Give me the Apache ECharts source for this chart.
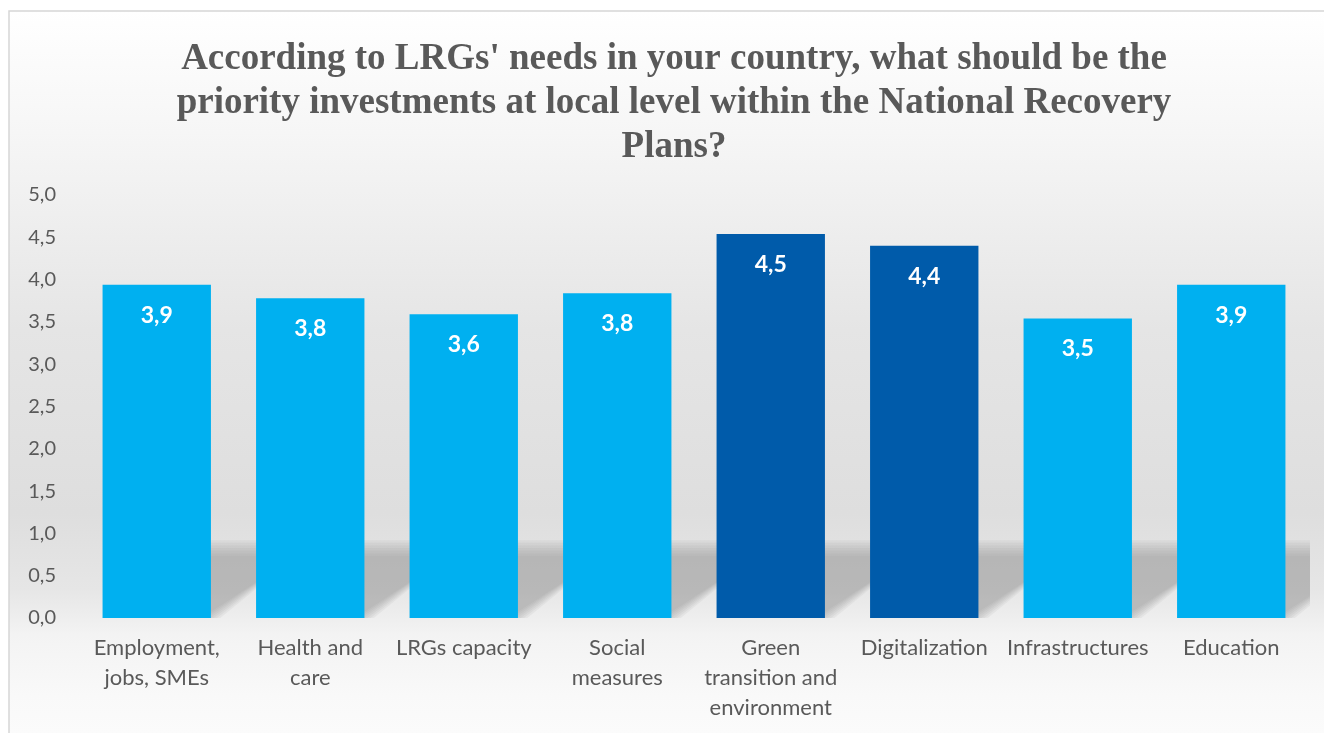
<!DOCTYPE html>
<html>
<head>
<meta charset="utf-8">
<script src="https://cdn.jsdelivr.net/npm/echarts@6/dist/echarts.min.js"></script>
<style>
html,body{margin:0;padding:0;background:#fff;}
#chart{width:1324px;height:733px;}
</style>
</head>
<body>
<div id="chart"></div>
<script>
const titleText = "According to LRGs' needs in your country, what should be the\npriority investments at local level within the National Recovery\nPlans?";
const categories = [
  "Employment,\njobs, SMEs",
  "Health and\ncare",
  "LRGs capacity",
  "Social\nmeasures",
  "Green\ntransition and\nenvironment",
  "Digitalization",
  "Infrastructures",
  "Education"
];
const values = [3.94, 3.78, 3.59, 3.84, 4.54, 4.40, 3.54, 3.94];
const highlighted = ["Green\ntransition and\nenvironment", "Digitalization"];
const yTicks = { min: 0, max: 5, interval: 0.5 };

const LIGHT = '#00B0F0';
const DARK = '#005BAA';
const TEXT = '#595959';
const BAR_W = 0.706;

const chart = echarts.init(document.getElementById('chart'));
const fmt = v => v.toFixed(1).replace('.', ',');

chart.setOption({
  animation: false,
  graphic: [{
    type: 'rect',
    z: -10,
    shape: { x: 9, y: 11, width: 1340, height: 760 },
    style: {
      stroke: '#d6d6d6',
      lineWidth: 1.5,
      fill: new echarts.graphic.LinearGradient(0, 0, 0, 1, [
        { offset: 0, color: '#ffffff' },
        { offset: 0.16, color: '#f6f6f6' },
        { offset: 0.42, color: '#e5e5e5' },
        { offset: 0.66, color: '#dedede' },
        { offset: 0.76, color: '#e6e6e6' },
        { offset: 0.82, color: '#f3f3f3' },
        { offset: 0.9, color: '#f9f9f9' },
        { offset: 1, color: '#fdfdfd' }
      ])
    }
  }],
  title: {
    text: titleText,
    left: 669,
    textAlign: 'center',
    top: 32,
    textStyle: {
      fontFamily: 'Liberation Serif',
      fontWeight: 'bold',
      fontSize: 37,
      lineHeight: 44,
      color: TEXT
    }
  },
  grid: { left: 80, right: 16, top: 195, bottom: 115, containLabel: false },
  xAxis: {
    type: 'category',
    data: categories,
    axisLine: { show: false },
    axisTick: { show: false },
    axisLabel: {
      interval: 0,
      margin: 15,
      fontFamily: 'Lato',
      fontSize: 22,
      lineHeight: 30,
      color: TEXT,
      verticalAlign: 'top'
    }
  },
  yAxis: {
    type: 'value',
    min: yTicks.min,
    max: yTicks.max,
    interval: yTicks.interval,
    splitLine: { show: false },
    axisLine: { show: false },
    axisTick: { show: false },
    axisLabel: {
      margin: 24,
      fontFamily: 'Lato',
      fontSize: 20,
      color: TEXT,
      formatter: v => fmt(v)
    }
  },
  series: [
    {
      type: 'custom',
      z: 1,
      clip: false,
      silent: true,
      data: values.map((v, i) => [i, v]),
      renderItem: function (params, api) {
        const cs = params.coordSys;
        const c = api.coord([api.value(0), 0]);
        const band = api.size([1, 0])[0];
        const w = band * BAR_W;
        const xl = c[0] - w / 2, xr = c[0] + w / 2, y0 = c[1];
        const dx = 95, dy = 70;
        const layers = [];
        const steps = 7;
        for (let k = 0; k < steps; k++) {
          const e = (k - (steps - 1) / 2) * 2.6; // outward expansion of top/right edges
          const top = y0 - dy - e;
          const rx = xr + e * 1.2;
          layers.push({
            type: 'polygon',
            shape: { points: [[xl, y0], [rx, y0], [rx + dx, top], [xl + dx, top]] },
            style: { fill: 'rgba(150,150,150,0.1)' }
          });
        }
        return {
          type: 'group',
          clipPath: {
            type: 'rect',
            shape: { x: cs.x - 10, y: cs.y, width: cs.width + 12, height: cs.height }
          },
          children: layers
        };
      }
    },
    {
      type: 'bar',
      z: 2,
      barWidth: (BAR_W * 100) + '%',
      data: values.map((v, i) => ({
        value: v,
        itemStyle: { color: highlighted.includes(categories[i]) ? DARK : LIGHT }
      })),
      label: {
        show: true,
        position: 'insideTop',
        distance: 19,
        color: '#ffffff',
        fontFamily: 'Lato',
        fontWeight: 'bold',
        fontSize: 23,
        formatter: p => fmt(p.value)
      }
    }
  ]
});
</script>
</body>
</html>
